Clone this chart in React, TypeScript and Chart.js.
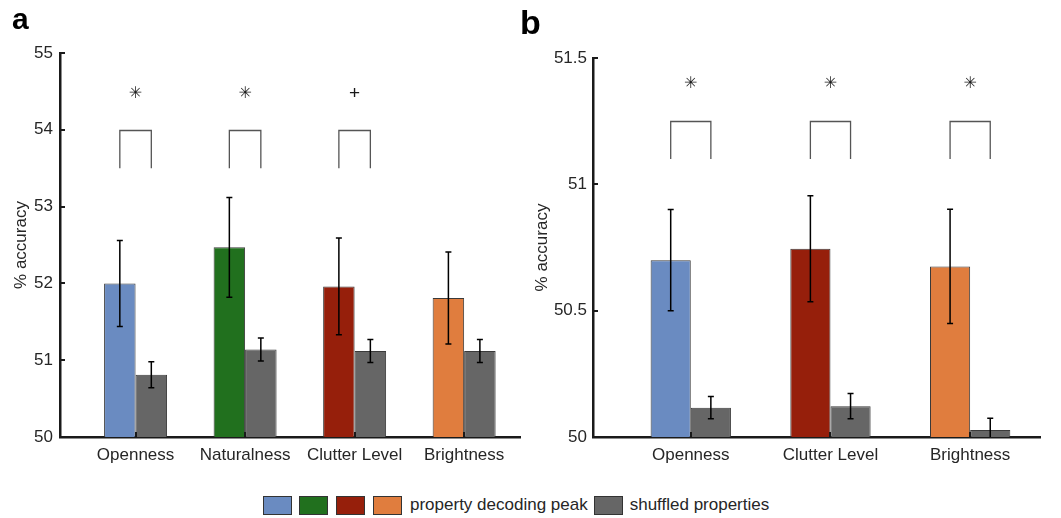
import React, { useEffect, useRef } from 'react';
import { Chart, registerables } from 'chart.js';

Chart.register(...registerables);

// ---------- data ----------
const categoriesA = ['Openness', 'Naturalness', 'Clutter Level', 'Brightness'];
const peakA = [52.0, 52.47, 51.96, 51.81];
const peakErrA = [0.56, 0.65, 0.63, 0.6];
const shuffledA = [50.81, 51.14, 51.12, 51.12];
const shuffledErrA = [0.17, 0.15, 0.15, 0.15];
const sigA = ['✳', '✳', '+', ''];
const bracketA = [54.0, 53.5];
const sigYA = 54.47;
const yTicksA = [50, 51, 52, 53, 54, 55];

const categoriesB = ['Openness', 'Clutter Level', 'Brightness'];
const peakB = [50.7, 50.745, 50.675];
const peakErrB = [0.2, 0.21, 0.226];
const shuffledB = [50.116, 50.122, 50.028];
const shuffledErrB = [0.044, 0.05, 0.046];
const sigB = ['✳', '✳', '✳'];
const bracketB = [51.25, 51.1];
const sigYB = 51.397;
const yTicksB = [50, 50.5, 51, 51.5];

const legendLabels = ['property decoding peak', 'shuffled properties'];

// ---------- styles ----------
const BLUE = '#6a8bc1';
const GREEN = '#21701e';
const RED = '#961f0b';
const ORANGE = '#e07d3e';
const GRAY = '#666666';
const colorsA = [BLUE, GREEN, RED, ORANGE];
const colorsB = [BLUE, RED, ORANGE];
const FONT = "'Liberation Sans', Arial, sans-serif";
const TEXT = '#262626';

type PanelProps = {
  categories: string[];
  peak: number[];
  peakErr: number[];
  shuffled: number[];
  shuffledErr: number[];
  colors: string[];
  sig: string[];
  bracket: number[];
  sigY: number;
  yTicks: number[];
  left: number;
  width: number;
  height: number;
  padTop: number;
  padRight: number;
  yAxisWidth: number;
  titlePad: number;
  tickPad: number;
  xMin: number;
  xMax: number;
};

function Panel(p: PanelProps) {
  const ref = useRef<HTMLCanvasElement | null>(null);
  useEffect(() => {
    const canvas = ref.current;
    if (!canvas) return;
    const errs = [p.peakErr, p.shuffledErr];
    const vals = [p.peak, p.shuffled];

    const decor = {
      id: 'decor',
      afterDatasetsDraw(chart: any) {
        const ctx = chart.ctx;
        const ys = chart.scales.y;
        const xs = chart.scales.x;
        const area = chart.chartArea;
        ctx.save();
        // error bars (clipped to the plot area)
        ctx.save();
        ctx.beginPath();
        ctx.rect(area.left, area.top - 10, area.right - area.left, area.bottom - area.top + 10);
        ctx.clip();
        ctx.strokeStyle = '#000';
        ctx.lineWidth = 1.5;
        for (let d = 0; d < 2; d++) {
          const meta = chart.getDatasetMeta(d);
          meta.data.forEach((bar: any, i: number) => {
            const v = vals[d][i];
            const e = errs[d][i];
            const yTop = ys.getPixelForValue(v + e);
            const yBot = ys.getPixelForValue(v - e);
            const x = bar.x;
            ctx.beginPath();
            ctx.moveTo(x, yTop);
            ctx.lineTo(x, yBot);
            ctx.moveTo(x - 3, yTop);
            ctx.lineTo(x + 3, yTop);
            ctx.moveTo(x - 3, yBot);
            ctx.lineTo(x + 3, yBot);
            ctx.stroke();
          });
        }
        ctx.restore();
        // inward ticks
        ctx.strokeStyle = '#1a1a1a';
        ctx.lineWidth = 2;
        ys.ticks.forEach((t: any) => {
          const y = Math.round(ys.getPixelForValue(t.value));
          ctx.beginPath();
          ctx.moveTo(area.left, y);
          ctx.lineTo(area.left + 5, y);
          ctx.stroke();
        });
        xs.ticks.forEach((t: any) => {
          const x = Math.round(xs.getPixelForValue(t.value));
          ctx.beginPath();
          ctx.moveTo(x, area.bottom);
          ctx.lineTo(x, area.bottom - 5);
          ctx.stroke();
        });
        // significance brackets
        const m0 = chart.getDatasetMeta(0);
        const m1 = chart.getDatasetMeta(1);
        p.sig.forEach((s, i) => {
          if (!s) return;
          const x1 = m0.data[i].x;
          const x2 = m1.data[i].x;
          const yT = Math.round(ys.getPixelForValue(p.bracket[0])) + 0.5;
          const yB = ys.getPixelForValue(p.bracket[1]);
          ctx.strokeStyle = '#555';
          ctx.lineWidth = 1.3;
          ctx.beginPath();
          ctx.moveTo(x1, yB);
          ctx.lineTo(x1, yT);
          ctx.lineTo(x2, yT);
          ctx.lineTo(x2, yB);
          ctx.stroke();
          ctx.fillStyle = '#1a1a1a';
          ctx.textAlign = 'center';
          ctx.textBaseline = 'middle';
          ctx.font = s === '+' ? `19px ${FONT}` : "16px 'DejaVu Sans'";
          ctx.fillText(s, (x1 + x2) / 2, ys.getPixelForValue(p.sigY));
        });
        ctx.restore();
      },
    };

    const chart = new Chart(canvas, {
      type: 'bar',
      data: {
        datasets: [
          {
            label: legendLabels[0],
            data: p.categories.map((_, i) => ({ x: i + 1, y: p.peak[i] })),
            backgroundColor: p.colors,
            borderColor: '#3a3a3a',
            borderWidth: 1,
            categoryPercentage: 0.575,
            barPercentage: 1,
          },
          {
            label: legendLabels[1],
            data: p.categories.map((_, i) => ({ x: i + 1, y: p.shuffled[i] })),
            backgroundColor: GRAY,
            borderColor: '#3a3a3a',
            borderWidth: 1,
            categoryPercentage: 0.575,
            barPercentage: 1,
          },
        ] as any,
      },
      options: {
        animation: false,
        responsive: false,
        maintainAspectRatio: false,
        layout: { padding: { top: p.padTop, right: p.padRight, bottom: 0, left: 0 } },
        plugins: { legend: { display: false }, tooltip: { enabled: false } },
        scales: {
          x: {
            type: 'linear',
            min: p.xMin,
            max: p.xMax,
            offset: false,
            z: 1,
            grid: { display: false, drawTicks: false },
            border: { display: true, color: '#1a1a1a', width: 2.5 },
            afterBuildTicks: (s: any) => {
              s.ticks = p.categories.map((_, i) => ({ value: i + 1 }));
            },
            afterFit: (s: any) => {
              s.height = 33;
            },
            ticks: {
              callback: (v: any) => p.categories[Math.round(Number(v)) - 1] ?? '',
              font: { family: FONT, size: 17 },
              color: TEXT,
              padding: 8,
              maxRotation: 0,
              autoSkip: false,
            },
          },
          y: {
            min: p.yTicks[0],
            max: p.yTicks[p.yTicks.length - 1],
            z: 1,
            grid: { display: false, drawTicks: false },
            border: { display: true, color: '#1a1a1a', width: 2.5 },
            afterBuildTicks: (s: any) => {
              s.ticks = p.yTicks.map((v) => ({ value: v }));
            },
            afterFit: (s: any) => {
              s.width = p.yAxisWidth;
            },
            ticks: {
              callback: (v: any) => String(v),
              font: { family: FONT, size: 17 },
              color: TEXT,
              padding: p.tickPad,
            },
            title: {
              display: true,
              text: '% accuracy',
              font: { family: FONT, size: 17 },
              color: TEXT,
              padding: { top: p.titlePad, bottom: 0 },
            },
          },
        } as any,
      },
      plugins: [decor],
    });
    return () => chart.destroy();
  }, []);
  return (
    <canvas
      ref={ref}
      width={p.width}
      height={p.height}
      style={{ position: 'absolute', left: p.left, top: 0, width: p.width, height: p.height }}
    />
  );
}

function Swatch({ color }: { color: string }) {
  return (
    <div
      style={{
        width: 27,
        height: 17,
        background: color,
        border: '1.5px solid #333',
        boxSizing: 'content-box',
      }}
    />
  );
}

export default function App() {
  return (
    <div
      style={{
        position: 'absolute',
        left: 0,
        top: 0,
        width: 1061,
        height: 518,
        background: '#fff',
        fontFamily: FONT,
        overflow: 'hidden',
      }}
    >
      <Panel
        categories={categoriesA}
        peak={peakA}
        peakErr={peakErrA}
        shuffled={shuffledA}
        shuffledErr={shuffledErrA}
        colors={colorsA}
        sig={sigA}
        bracket={bracketA}
        sigY={sigYA}
        yTicks={yTicksA}
        left={0}
        width={525}
        height={470}
        padTop={53}
        padRight={5}
        yAxisWidth={60}
        titlePad={11}
        tickPad={7}
        xMin={0.31}
        xMax={4.51}
      />
      <Panel
        categories={categoriesB}
        peak={peakB}
        peakErr={peakErrB}
        shuffled={shuffledB}
        shuffledErr={shuffledErrB}
        colors={colorsB}
        sig={sigB}
        bracket={bracketB}
        sigY={sigYB}
        yTicks={yTicksB}
        left={525}
        width={536}
        height={470}
        padTop={58}
        padRight={21}
        yAxisWidth={68}
        titlePad={7}
        tickPad={6}
        xMin={0.3}
        xMax={3.5}
      />
      <div
        style={{
          position: 'absolute',
          left: 12,
          top: 4,
          fontSize: 30,
          fontWeight: 'bold',
          lineHeight: '30px',
          color: '#000',
        }}
      >
        a
      </div>
      <div
        style={{
          position: 'absolute',
          left: 520,
          top: 5,
          fontSize: 34,
          fontWeight: 'bold',
          lineHeight: '34px',
          color: '#000',
        }}
      >
        b
      </div>
      <div
        style={{
          position: 'absolute',
          left: 263,
          top: 495,
          height: 20,
          display: 'flex',
          alignItems: 'center',
          fontSize: 17,
          color: TEXT,
          whiteSpace: 'nowrap',
        }}
      >
        <Swatch color={BLUE} />
        <div style={{ width: 7 }} />
        <Swatch color={GREEN} />
        <div style={{ width: 8 }} />
        <Swatch color={RED} />
        <div style={{ width: 8 }} />
        <Swatch color={ORANGE} />
        <span style={{ marginLeft: 8, marginRight: 6 }}>{legendLabels[0]}</span>
        <Swatch color={GRAY} />
        <span style={{ marginLeft: 7 }}>{legendLabels[1]}</span>
      </div>
    </div>
  );
}
